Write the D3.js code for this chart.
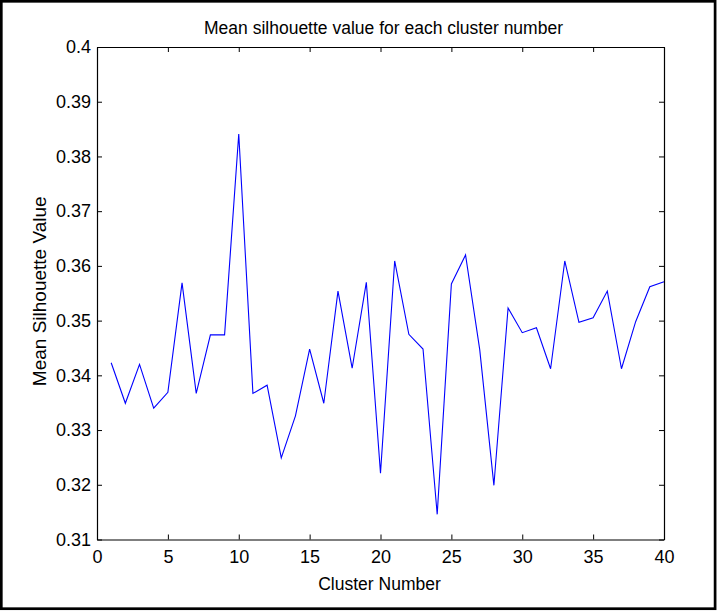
<!DOCTYPE html>
<html>
<head>
<meta charset="utf-8">
<script src="https://cdn.jsdelivr.net/npm/d3@7"></script>
<style>
  body { margin: 0; background: #fff; }
  svg text { font-family: "Liberation Sans", Arial, sans-serif; fill: #000; }
</style>
</head>
<body>
<svg id="chart" width="717" height="611"></svg>
<script>
// cluster numbers 1..40 and the mean silhouette value
const clusters = [1, 2, 3, 4, 5, 6, 7, 8, 9, 10, 11, 12, 13, 14, 15, 16, 17, 18, 19, 20,
                  21, 22, 23, 24, 25, 26, 27, 28, 29, 30, 31, 32, 33, 34, 35, 36, 37, 38, 39, 40];
const silhouette = [0.3423, 0.3349, 0.3420, 0.3340, 0.3369, 0.3569, 0.3367, 0.3474, 0.3474, 0.3841,
                    0.3367, 0.3382, 0.3249, 0.3326, 0.3448, 0.3349, 0.3554, 0.3413, 0.3570, 0.3221,
                    0.3609, 0.3475, 0.3448, 0.3146, 0.3567, 0.3620, 0.3447, 0.3199, 0.3523, 0.3478,
                    0.3487, 0.3412, 0.3609, 0.3497, 0.3505, 0.3554, 0.3412, 0.3498, 0.3562, 0.3571];
const xTicks = [0, 5, 10, 15, 20, 25, 30, 35, 40];
const yTicks = [0.31, 0.32, 0.33, 0.34, 0.35, 0.36, 0.37, 0.38, 0.39, 0.4];

const margin = { top: 47, right: 53, bottom: 71.5, left: 97 };
const svg = d3.select("#chart");
const W = +svg.attr("width"), H = +svg.attr("height");
const width = W - margin.left - margin.right;
const height = H - margin.top - margin.bottom;

// outer frame of the figure
svg.append("rect")
    .attr("x", 1.3).attr("y", 1.3)
    .attr("width", W - 3.2).attr("height", H - 3.6)
    .attr("fill", "#fff").attr("stroke", "#000").attr("stroke-width", 2.7);

const g = svg.append("g").attr("transform", `translate(${margin.left},${margin.top})`);

const x = d3.scaleLinear().domain([0, 40]).range([0, width]);
const y = d3.scaleLinear().domain([0.31, 0.4]).range([height, 0]);

// the data line
const line = d3.line().x((d, i) => x(clusters[i])).y(d => y(d));
g.append("path")
    .datum(silhouette)
    .attr("fill", "none")
    .attr("stroke", "#0000ff")
    .attr("stroke-width", 1.1)
    .attr("d", line);

// axes, ticks pointing inwards like matlab
const styleAxis = sel => {
    sel.select(".domain").attr("stroke", "#000").attr("stroke-width", 1.2);
    sel.selectAll(".tick line").attr("stroke", "#000");
    sel.selectAll("text").style("font-size", "18px").attr("fill", "#000");
};
g.append("g")
    .attr("transform", `translate(0,${height})`)
    .call(d3.axisBottom(x).tickValues(xTicks).tickFormat(d3.format("d")).tickSizeInner(-5).tickSizeOuter(0).tickPadding(11))
    .call(styleAxis);
g.append("g")
    .call(d3.axisLeft(y).tickValues(yTicks).tickFormat(d => d3.format("")(+d.toFixed(2))).tickSizeInner(-5).tickSizeOuter(0).tickPadding(6))
    .call(styleAxis);
g.append("g")
    .call(d3.axisTop(x).tickValues(xTicks).tickFormat("").tickSizeInner(-5).tickSizeOuter(0))
    .call(styleAxis);
g.append("g")
    .attr("transform", `translate(${width},0)`)
    .call(d3.axisRight(y).tickValues(yTicks).tickFormat("").tickSizeInner(-5).tickSizeOuter(0))
    .call(styleAxis);

// titles
svg.append("text")
    .attr("x", margin.left + width / 2 + 3).attr("y", 34)
    .attr("text-anchor", "middle").style("font-size", "17.5px")
    .text("Mean silhouette value for each cluster number");
svg.append("text")
    .attr("x", margin.left + width / 2 - 1).attr("y", 590)
    .attr("text-anchor", "middle").style("font-size", "17.5px")
    .text("Cluster Number");
svg.append("text")
    .attr("transform", `translate(46,${margin.top + height / 2 - 2}) rotate(-90)`)
    .attr("text-anchor", "middle").style("font-size", "19px")
    .text("Mean Silhouette Value");
</script>
</body>
</html>
